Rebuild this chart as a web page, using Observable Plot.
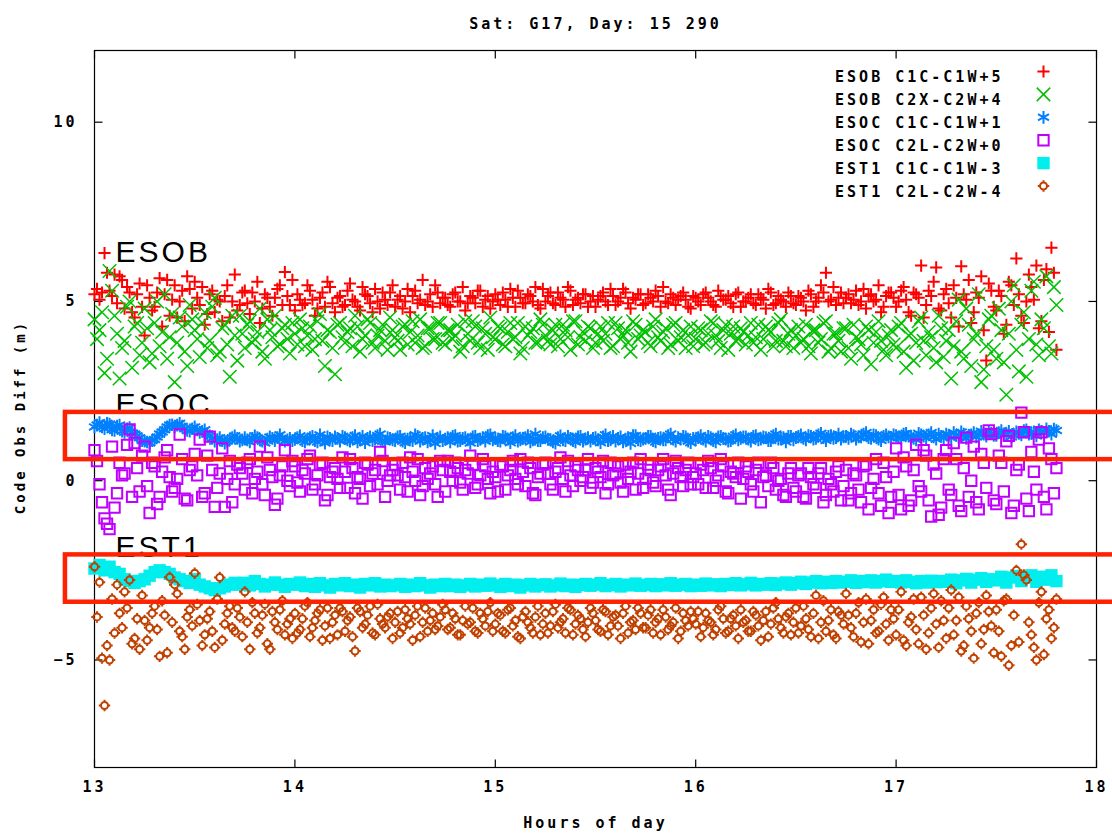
<!DOCTYPE html>
<html><head><meta charset="utf-8">
<script src="https://cdn.jsdelivr.net/npm/d3@7"></script>
<script src="https://cdn.jsdelivr.net/npm/@observablehq/plot@0.6"></script>
<style>
body{margin:0;background:#fff;}
#chart{width:1112px;height:835px;overflow:hidden;}
</style></head><body><div id="chart"></div>
<script>
// ---------- text ----------
const title = "Sat: G17, Day: 15 290";
const xLabel = "Hours of day";
const yLabel = "Code Obs Diff (m)";
const xTicks = [13, 14, 15, 16, 17, 18];
const yTicks = [-5, 0, 5, 10];
const seriesLabels = ["ESOB C1C-C1W+5", "ESOB C2X-C2W+4", "ESOC C1C-C1W+1", "ESOC C2L-C2W+0", "EST1 C1C-C1W-3", "EST1 C2L-C2W-4"];

// ---------- time grid (hours of day) ----------
// "A" arrays start at 13.0000, "B" arrays at 13.0125; both step 0.025 h
const hourStart = 13.0;
const hourStep = 0.025;

// ---------- series values (m) ----------
const esobC1 = [
5.20,5.05,6.35,5.30,5.75,5.70,4.80,5.25,4.55,5.50,
4.05,5.10,4.85,5.65,5.20,4.60,5.45,5.00,4.45,5.35,
5.55,4.90,4.35,5.20,4.70,5.00,5.15,4.55,5.75,4.90,
5.30,4.65,5.00,4.40,5.20,4.85,5.10,5.45,5.82,4.90,
4.75,5.05,4.95,5.30,4.60,5.10,4.85,5.40,4.70,5.15,
4.90,5.50,5.00,4.75,5.20,4.95,5.35,4.80,5.05,5.25,
4.85,5.15,5.00,4.70,5.30,5.05,4.90,5.20,5.45,4.95,
5.10,4.85,5.25,5.00,4.75,5.15,4.95,5.30,5.05,4.80,
5.20,4.90,5.05,5.35,4.85,5.10,4.95,5.15,5.40,4.80,
5.00,5.25,4.90,5.10,4.85,5.30,5.05,4.95,5.20,5.00,
4.85,5.15,5.00,5.35,4.90,5.10,5.25,4.80,5.05,5.20,
4.95,5.10,5.30,4.85,5.00,5.20,4.90,5.15,5.05,4.80,
5.10,4.90,5.25,5.00,4.85,5.15,5.05,4.95,5.20,4.85,
5.00,5.20,4.90,5.10,4.80,5.25,4.95,5.05,4.85,5.15,
4.90,5.10,4.75,5.20,5.00,5.45,5.80,5.05,4.90,5.25,
5.10,4.95,5.30,5.00,4.80,5.20,5.05,4.70,5.15,5.25,
4.85,5.30,5.05,4.60,5.20,6.00,4.90,5.15,5.95,4.75,
5.35,4.55,5.10,5.98,5.05,4.40,5.25,5.70,3.35,5.30,
4.75,5.15,4.35,5.45,6.20,4.60,5.00,5.40,6.00,4.45,
5.90,6.50,3.65];
const esobC1B = [
5.35,5.25,5.80,5.15,4.95,5.60,5.40,4.70,5.20,4.85,
5.45,4.75,5.25,4.30,5.60,5.05,4.55,5.30,5.70,4.80,
5.10,5.40,4.65,5.30,5.05,4.45,5.45,5.00,4.75,5.25,
4.95,5.25,5.55,4.80,5.10,4.60,5.35,4.90,5.15,5.60,
5.20,4.90,5.45,5.05,4.80,5.25,5.55,4.95,5.10,4.85,
5.30,5.05,4.85,5.40,5.15,4.70,5.00,5.25,4.90,5.45,
5.05,4.80,5.35,5.15,4.95,5.60,5.00,4.85,5.25,5.10,
4.90,5.20,5.00,5.40,4.95,5.10,5.30,4.85,5.15,5.00,
5.05,5.25,4.85,5.10,5.30,4.95,5.20,5.00,4.90,5.35,
5.15,4.95,5.25,5.05,5.40,4.90,5.10,5.20,4.85,5.15,
5.05,5.25,4.90,5.15,5.00,5.35,4.95,5.10,5.20,4.90,
5.20,5.00,5.15,5.40,4.95,5.10,5.05,5.25,4.85,5.15,
5.00,5.20,5.10,4.90,5.30,5.05,5.15,4.85,5.25,5.00,
5.10,4.95,5.20,5.05,5.35,4.90,5.15,5.00,5.25,4.95,
5.15,5.00,5.30,4.85,5.10,5.25,5.00,5.40,5.10,4.95,
5.20,5.05,4.90,5.35,5.15,5.00,5.45,4.85,5.25,5.10,
5.00,5.40,4.70,5.25,5.10,4.55,5.30,5.55,4.80,5.20,
4.95,5.45,4.30,5.20,5.60,4.70,5.10,4.20,5.50,4.85,
5.30,4.10,5.55,4.90,5.20,4.40,5.75,5.05,4.25,5.60,
4.15,5.80];

const esobC2 = [
4.50,4.20,3.00,5.85,4.60,2.85,3.90,5.00,4.30,3.50,
4.80,3.30,4.40,3.75,5.20,4.00,2.75,4.55,3.60,4.90,
4.20,3.45,4.70,3.90,5.10,3.60,4.35,2.90,4.05,4.60,
3.70,4.45,3.95,4.80,3.40,4.20,4.60,3.80,4.35,3.55,
4.10,4.50,3.75,4.30,3.95,4.65,3.20,4.15,2.97,4.40,
3.85,4.25,4.60,3.60,4.05,4.40,3.70,4.20,3.90,4.55,
4.00,3.65,4.35,4.15,3.85,4.50,3.75,4.25,3.95,4.40,
3.80,4.20,4.05,3.60,4.45,3.90,4.30,3.70,4.10,4.55,
3.95,4.25,3.75,4.40,4.00,3.55,4.30,4.15,3.85,4.50,
4.05,3.80,4.35,3.95,4.20,3.65,4.45,4.00,3.90,4.25,
3.85,4.30,4.10,3.70,4.40,3.95,4.20,3.60,4.35,4.05,
4.15,3.75,4.50,3.90,4.25,3.80,4.40,4.00,3.70,4.30,
3.95,4.20,3.85,4.45,4.05,3.70,4.35,4.10,3.90,4.25,
3.80,4.40,4.00,3.65,4.30,4.15,3.90,4.50,3.75,4.20,
4.05,3.85,4.35,3.55,4.20,3.95,4.45,3.70,4.10,3.60,
4.25,3.40,4.00,3.80,4.30,3.25,4.15,3.90,3.50,4.20,
3.70,4.40,3.15,4.10,3.85,4.55,3.50,4.00,3.30,4.25,
3.90,2.85,4.45,3.60,4.80,3.20,4.10,2.75,3.75,4.60,
3.40,4.20,2.40,5.00,3.65,4.35,2.90,5.30,3.80,4.50,
5.70,3.55,4.90];
const esobC2B = [
3.95,4.70,3.40,5.30,4.10,3.70,4.85,3.15,4.40,3.85,
4.25,3.55,5.00,4.15,3.40,4.65,3.85,4.30,3.20,4.50,
3.95,4.40,3.70,4.85,3.50,4.25,3.80,4.60,3.35,4.10,
4.35,3.85,4.15,3.60,4.50,4.00,3.75,4.25,3.95,4.40,
3.80,4.25,4.05,3.65,4.45,3.90,4.20,3.70,4.35,4.00,
4.15,3.75,4.30,3.95,4.50,3.85,4.05,4.35,3.65,4.20,
3.90,4.30,3.80,4.45,4.05,3.70,4.25,3.95,4.40,3.85,
4.20,3.95,4.35,3.75,4.10,4.45,3.85,4.25,3.65,4.00,
4.30,3.80,4.15,3.95,4.40,3.70,4.05,4.25,3.85,4.35,
3.90,4.20,3.75,4.35,4.00,4.45,3.80,4.15,4.30,3.70,
4.10,3.90,4.40,3.75,4.25,4.05,3.85,4.45,3.95,4.20,
3.85,4.30,4.00,4.15,3.70,4.35,3.90,4.20,4.05,3.75,
4.25,3.80,4.10,4.40,3.90,4.20,3.65,4.30,3.95,4.15,
4.05,3.85,4.35,3.95,4.20,3.75,4.40,3.90,4.10,3.70,
4.30,3.95,3.75,4.20,3.85,4.40,3.60,4.10,3.90,4.25,
3.70,4.35,3.95,3.50,4.20,3.85,4.45,3.65,4.05,3.80,
4.30,3.60,4.05,3.35,4.45,3.90,4.15,3.70,4.60,3.45,
4.20,3.75,5.05,3.40,4.35,3.95,5.20,3.10,4.50,3.65,
4.80,3.30,4.10,5.45,3.05,4.70,3.95,5.55,3.50,4.25,
3.75,5.40];

const esocC1 = [
1.50,1.62,1.45,1.58,1.40,1.55,1.35,1.48,1.30,1.20,
1.10,1.05,1.15,1.30,1.42,1.55,1.50,1.60,1.45,1.38,
1.50,1.35,1.42,1.25,1.10,1.20,1.05,1.15,1.25,1.10,
1.20,1.08,1.25,1.15,1.05,1.22,1.12,1.28,1.10,1.18,
1.15,1.25,1.08,1.20,1.12,1.28,1.05,1.18,1.22,1.10,
1.20,1.10,1.26,1.14,1.06,1.22,1.16,1.30,1.08,1.18,
1.12,1.24,1.06,1.18,1.28,1.10,1.20,1.14,1.04,1.22,
1.16,1.08,1.26,1.12,1.20,1.05,1.24,1.15,1.10,1.28,
1.18,1.10,1.22,1.06,1.26,1.14,1.20,1.08,1.30,1.12,
1.22,1.15,1.05,1.25,1.12,1.18,1.08,1.24,1.16,1.10,
1.20,1.06,1.28,1.14,1.10,1.22,1.16,1.04,1.26,1.12,
1.18,1.24,1.08,1.20,1.14,1.30,1.10,1.16,1.22,1.06,
1.14,1.26,1.10,1.20,1.08,1.24,1.16,1.12,1.28,1.18,
1.22,1.10,1.26,1.16,1.20,1.12,1.30,1.18,1.08,1.24,
1.20,1.28,1.14,1.24,1.18,1.32,1.12,1.26,1.20,1.16,
1.24,1.30,1.16,1.22,1.34,1.18,1.26,1.12,1.28,1.20,
1.26,1.18,1.32,1.22,1.14,1.28,1.20,1.34,1.16,1.24,
1.30,1.20,1.26,1.36,1.18,1.28,1.22,1.38,1.24,1.32,
1.26,1.40,1.30,1.22,1.36,1.28,1.42,1.32,1.25,1.38,
1.45,1.30,1.40];
const esocC1B = [
1.55,1.50,1.60,1.42,1.52,1.38,1.45,1.32,1.25,1.12,
1.08,1.12,1.22,1.36,1.50,1.56,1.55,1.52,1.40,1.45,
1.42,1.38,1.30,1.18,1.15,1.12,1.10,1.20,1.18,1.14,
1.14,1.18,1.20,1.10,1.16,1.18,1.20,1.16,1.14,1.12,
1.20,1.12,1.16,1.24,1.08,1.14,1.22,1.12,1.18,1.24,
1.14,1.20,1.08,1.24,1.18,1.12,1.26,1.10,1.20,1.14,
1.22,1.10,1.16,1.12,1.24,1.18,1.08,1.26,1.16,1.12,
1.20,1.24,1.10,1.18,1.14,1.22,1.12,1.20,1.26,1.14,
1.12,1.24,1.16,1.20,1.10,1.18,1.26,1.14,1.12,1.20,
1.16,1.08,1.20,1.14,1.24,1.12,1.22,1.10,1.20,1.18,
1.14,1.22,1.12,1.24,1.18,1.08,1.20,1.26,1.14,1.16,
1.24,1.12,1.18,1.14,1.26,1.16,1.20,1.24,1.10,1.18,
1.20,1.16,1.24,1.12,1.22,1.18,1.10,1.24,1.14,1.22,
1.16,1.24,1.14,1.22,1.12,1.26,1.16,1.20,1.24,1.14,
1.24,1.18,1.26,1.16,1.28,1.20,1.24,1.18,1.30,1.22,
1.18,1.26,1.22,1.30,1.20,1.28,1.16,1.24,1.22,1.28,
1.20,1.30,1.24,1.18,1.32,1.24,1.28,1.22,1.30,1.20,
1.26,1.34,1.22,1.30,1.26,1.34,1.28,1.30,1.36,1.26,
1.34,1.30,1.38,1.28,1.32,1.40,1.30,1.36,1.42,1.34,
1.38,1.44];

const esocC2 = [
0.85,-0.10,-1.05,-1.35,-0.75,0.50,0.20,1.43,1.05,-0.30,
0.95,-0.90,0.40,-0.45,0.65,0.10,-0.20,1.29,-0.50,0.30,
0.75,1.15,-0.35,1.23,-0.73,0.20,-0.73,0.55,-0.10,0.35,
-0.25,0.60,0.05,0.95,-0.40,0.30,-0.67,0.15,0.85,-0.15,
0.40,-0.30,0.20,0.70,-0.10,0.45,-0.55,0.10,0.35,-0.20,
0.25,0.60,-0.35,0.05,0.50,-0.15,0.30,0.80,-0.45,0.15,
0.45,-0.25,0.10,0.65,0.00,-0.40,0.35,0.20,-0.10,0.55,
-0.30,0.25,0.50,-0.05,0.30,0.70,-0.20,0.15,0.40,-0.35,
0.10,0.45,-0.25,0.30,0.05,0.60,-0.15,0.35,-0.40,0.20,
0.50,-0.10,0.25,0.65,-0.30,0.15,0.40,0.00,0.30,-0.20,
0.35,0.10,-0.35,0.50,0.20,-0.05,0.45,0.25,-0.25,0.60,
0.05,0.30,-0.15,0.40,0.15,-0.40,0.55,0.10,0.30,-0.10,
0.20,0.45,-0.20,0.35,0.00,0.60,-0.30,0.25,0.10,-0.50,
0.40,-0.10,0.30,-0.60,0.15,0.50,-0.25,0.05,-0.45,0.35,
-0.30,0.20,-0.50,0.10,-0.20,0.35,-0.40,-0.10,0.25,-0.55,
0.30,-0.35,0.15,-0.60,0.45,-0.20,0.60,-0.70,0.10,-0.45,
0.90,-0.80,0.40,-0.55,1.00,-0.30,0.70,-1.00,0.20,-0.75,
0.85,-0.40,0.60,-0.85,1.20,0.00,-0.60,0.75,-0.20,1.30,
-0.65,0.50,1.10,-0.90,0.30,1.90,-0.50,0.80,-0.25,1.35,
-0.80,0.60,0.35];
const esocC2B = [
0.55,-0.60,-1.20,0.95,-0.35,0.15,1.00,-0.45,0.35,0.70,
-0.15,0.50,-0.65,0.25,0.85,-0.30,0.05,0.60,-0.55,0.40,
0.15,-0.45,0.70,0.30,-0.20,0.90,0.05,-0.60,0.45,0.20,
0.50,-0.35,0.25,-0.10,0.65,0.10,-0.50,0.40,0.00,0.55,
-0.05,0.30,0.60,-0.25,0.15,0.50,-0.40,0.25,0.05,0.65,
-0.20,0.35,0.10,-0.50,0.45,0.20,-0.10,0.55,0.00,0.30,
0.15,0.50,-0.30,0.25,0.60,-0.15,0.05,0.40,-0.45,0.30,
0.55,0.00,0.35,-0.25,0.20,0.45,-0.10,0.60,0.05,0.25,
-0.30,0.40,0.15,0.55,-0.10,0.25,0.50,-0.35,0.10,0.45,
0.20,-0.25,0.35,0.05,0.55,-0.15,0.30,0.10,0.60,-0.05,
0.25,0.55,-0.10,0.15,0.40,-0.30,0.05,0.50,0.20,-0.20,
0.45,-0.05,0.30,0.60,-0.25,0.20,0.35,-0.15,0.50,0.10,
-0.10,0.30,0.55,-0.20,0.15,0.40,-0.35,0.20,0.50,0.05,
0.25,-0.30,0.50,0.10,-0.15,0.35,0.00,-0.40,0.20,-0.20,
0.15,-0.45,0.35,-0.10,0.20,-0.60,0.05,-0.30,0.40,-0.15,
-0.55,0.20,-0.25,0.40,-0.80,0.05,-0.35,0.50,-0.90,0.25,
-0.40,0.65,-0.70,0.30,-0.15,0.85,-0.55,0.45,-0.95,0.60,
-0.25,1.05,-0.70,0.35,-0.45,0.95,-0.80,0.50,1.40,-0.55,
0.70,-0.30,1.25,-0.70,0.45,1.35,-0.85,0.25,1.15,-0.45,
0.90,-0.35];

const est1C1 = [
-2.45,-2.35,-2.50,-2.40,-2.55,-2.60,-2.75,-2.80,-2.85,-2.80,
-2.75,-2.65,-2.55,-2.50,-2.55,-2.60,-2.70,-2.75,-2.80,-2.85,
-2.75,-2.90,-2.95,-3.00,-3.05,-3.00,-2.95,-2.90,-2.85,-2.90,
-2.85,-2.92,-2.80,-2.88,-2.95,-2.90,-2.84,-2.90,-2.96,-2.88,
-2.90,-2.84,-2.94,-2.88,-2.96,-2.86,-2.92,-2.98,-2.88,-2.92,
-2.86,-2.94,-2.90,-2.98,-2.88,-2.92,-2.86,-2.95,-2.90,-2.94,
-2.92,-2.88,-2.96,-2.90,-2.94,-2.86,-2.92,-2.98,-2.90,-2.94,
-2.88,-2.94,-2.90,-2.96,-2.92,-2.88,-2.95,-2.90,-2.93,-2.87,
-2.92,-2.96,-2.88,-2.94,-2.90,-2.98,-2.92,-2.88,-2.95,-2.91,
-2.89,-2.95,-2.92,-2.87,-2.94,-2.90,-2.96,-2.91,-2.88,-2.93,
-2.90,-2.86,-2.94,-2.91,-2.88,-2.95,-2.90,-2.92,-2.87,-2.93,
-2.91,-2.88,-2.94,-2.89,-2.92,-2.86,-2.93,-2.90,-2.88,-2.94,
-2.90,-2.93,-2.87,-2.92,-2.89,-2.94,-2.88,-2.91,-2.86,-2.92,
-2.89,-2.85,-2.92,-2.88,-2.90,-2.86,-2.91,-2.87,-2.84,-2.90,
-2.86,-2.82,-2.88,-2.84,-2.80,-2.86,-2.82,-2.85,-2.80,-2.84,
-2.82,-2.78,-2.85,-2.80,-2.83,-2.78,-2.84,-2.80,-2.76,-2.82,
-2.80,-2.84,-2.78,-2.82,-2.86,-2.80,-2.84,-2.79,-2.83,-2.80,
-2.82,-2.76,-2.86,-2.78,-2.74,-2.84,-2.76,-2.72,-2.82,-2.75,
-2.78,-2.68,-2.84,-2.70,-2.66,-2.80,-2.70,-2.64,-2.82,-2.68,
-2.76,-2.64,-2.80];

const est1C2 = [
-2.40,-2.83,-6.27,-5.00,-4.25,-3.70,-3.10,-2.77,-4.40,-4.70,
-3.90,-4.10,-3.50,-4.90,-3.75,-2.69,-2.90,-4.20,-4.70,-3.60,
-2.58,-3.90,-4.30,-3.65,-4.65,-2.70,-4.00,-3.50,-4.20,-3.80,
-3.10,-4.70,-3.70,-4.10,-3.45,-4.70,-3.95,-3.60,-4.30,-3.85,
-3.70,-4.15,-3.50,-4.35,-3.90,-3.60,-4.05,-4.40,-3.75,-3.55,
-4.20,-3.80,-4.75,-3.65,-4.00,-3.50,-4.30,-3.85,-4.10,-3.70,
-3.95,-4.25,-3.60,-4.00,-3.75,-4.35,-3.55,-3.90,-4.15,-3.80,
-3.60,-4.10,-3.85,-4.30,-3.50,-3.95,-4.20,-3.70,-4.05,-3.40,
-4.00,-3.75,-4.25,-3.55,-3.90,-4.40,-3.65,-4.10,-3.80,-4.30,
-3.70,-4.05,-3.45,-3.95,-4.25,-3.60,-4.00,-3.85,-4.35,-3.55,
-3.90,-4.20,-3.65,-4.05,-3.75,-4.40,-3.50,-3.95,-4.15,-3.70,
-4.10,-3.60,-3.95,-4.30,-3.80,-4.05,-3.55,-4.20,-3.90,-3.65,
-4.00,-4.35,-3.70,-3.95,-4.15,-3.50,-4.25,-3.85,-4.05,-3.60,
-3.90,-4.20,-3.75,-4.45,-3.65,-4.00,-3.40,-4.10,-3.80,-4.30,
-3.55,-4.05,-3.85,-4.35,-3.20,-3.95,-4.20,-3.60,-4.40,-3.75,
-3.15,-4.10,-3.70,-4.50,-3.30,-3.90,-4.25,-3.45,-4.00,-3.60,
-4.30,-3.10,-4.60,-3.80,-4.15,-3.25,-4.70,-3.55,-4.00,-3.35,
-4.40,-3.05,-3.90,-4.75,-3.50,-4.20,-3.70,-4.55,-3.20,-4.05,
-3.60,-4.90,-3.30,-4.60,-2.50,-1.77,-2.77,-4.30,-5.00,-3.10,
-3.85,-4.40,-3.30];
const est1C2B = [
-3.80,-4.95,-4.60,-3.30,-2.90,-4.10,-3.55,-4.55,-3.85,-3.20,
-4.45,-3.70,-4.15,-3.35,-4.80,-3.95,-3.15,-4.35,-3.80,-4.05,
-3.45,-4.60,-3.85,-4.20,-3.30,-4.45,-3.70,-4.10,-3.55,-4.35,
-3.95,-3.40,-4.25,-3.75,-4.55,-3.65,-4.15,-3.35,-4.00,-4.40,
-4.25,-3.85,-3.40,-4.10,-3.70,-4.45,-3.55,-3.95,-4.30,-3.65,
-3.90,-4.35,-3.55,-4.10,-3.75,-4.25,-3.45,-4.00,-3.80,-4.40,
-3.65,-4.10,-3.85,-4.45,-3.50,-3.95,-4.20,-3.70,-4.05,-3.45,
-4.15,-3.70,-4.30,-3.90,-4.00,-3.55,-4.25,-3.85,-3.65,-4.20,
-3.70,-4.20,-3.60,-4.05,-4.35,-3.80,-3.95,-4.25,-3.50,-4.00,
-4.25,-3.65,-4.10,-3.85,-3.55,-4.30,-3.75,-4.15,-3.95,-3.70,
-4.15,-3.60,-4.30,-3.80,-4.05,-3.70,-4.25,-3.90,-3.55,-4.10,
-3.75,-4.25,-3.85,-3.60,-4.15,-3.95,-4.40,-3.70,-4.05,-3.85,
-3.65,-4.10,-3.90,-4.30,-3.60,-3.85,-4.20,-3.75,-4.40,-3.95,
-4.20,-3.65,-4.05,-3.90,-4.35,-3.55,-3.85,-4.25,-3.70,-3.95,
-4.25,-3.50,-4.15,-3.70,-4.40,-3.35,-3.90,-4.30,-3.65,-4.00,
-3.75,-4.35,-3.40,-3.95,-4.55,-3.60,-4.20,-3.25,-4.45,-3.85,
-3.60,-4.45,-3.95,-3.30,-4.55,-3.75,-4.25,-3.15,-4.65,-3.90,
-3.55,-4.30,-3.25,-4.60,-3.85,-4.95,-3.40,-4.15,-3.65,-4.80,
-4.20,-3.35,-5.15,-3.75,-4.50,-2.63,-3.95,-4.65,-3.40,-4.85,
-3.60,-4.10];

// ---------- annotations (data coordinates) ----------
const noteLabels = ["ESOB", "ESOC", "EST1"];
const noteHour = [13.105, 13.105, 13.105];
const noteValue = [6.1, 1.85, -2.13];
const boxNames = ["ESOC", "EST1"];
const boxHourFrom = [12.855, 12.855];
const boxHourTo = [18.3, 18.3];
const boxTop = [1.905, -2.07];
const boxBottom = [0.588, -3.39];

// ---------- styling ----------
const spikyCircle = {
  draw(ctx, size) {
    const r = Math.sqrt(size / Math.PI);
    ctx.moveTo(r, 0);
    ctx.arc(0, 0, r, 0, 2 * Math.PI);
    const s = r + 2.2;
    ctx.moveTo(r, 0); ctx.lineTo(s, 0);
    ctx.moveTo(-r, 0); ctx.lineTo(-s, 0);
    ctx.moveTo(0, r); ctx.lineTo(0, s);
    ctx.moveTo(0, -r); ctx.lineTo(0, -s);
  }
};
const tickMark = (dx, dy) => ({draw(ctx) { ctx.moveTo(0, 0); ctx.lineTo(dx, dy); }});
const styles = [
  {color: "#ff0000", symbol: "plus", r: 4.0, fill: "none", sw: 2},
  {color: "#00c000", symbol: "times", r: 6.2, fill: "none", sw: 1.5},
  {color: "#0080ff", symbol: "asterisk", r: 6.0, fill: "none", sw: 2},
  {color: "#c000ff", symbol: "square2", r: 6.6, fill: "none", sw: 2},
  {color: "#00eeee", symbol: "square", r: 7.0, fill: "#00eeee", sw: 0},
  {color: "#c04000", symbol: spikyCircle, r: 3.5, fill: "none", sw: 2}
];
const seriesArrays = [[esobC1, esobC1B], [esobC2, esobC2B], [esocC1, esocC1B], [esocC2, esocC2B], [est1C1], [est1C2, est1C2B]];
const tables = seriesArrays.map(arrs => arrs.flatMap((vals, k) =>
  vals.map((v, i) => ({hour: hourStart + k * hourStep / 2 + i * hourStep, value: v}))
).sort((a, b) => a.hour - b.hour));

const mono = "DejaVu Sans Mono, monospace";

function dotOpts(st) {
  return {symbol: () => st.symbol, r: st.r, stroke: st.fill === "none" ? st.color : "none",
    fill: st.fill, strokeWidth: st.sw};
}
function dotsFor(i) {
  return Plot.dot(tables[i], {x: "hour", y: "value", ...dotOpts(styles[i])});
}
function legendFor(i) {
  return [
    Plot.text([seriesLabels[i]], {frameAnchor: "top-right", dx: -93, dy: 21 + 22.9 * i, text: d => d,
      textAnchor: "end", fill: "black", fontFamily: mono, fontWeight: "bold", fontSize: 15}),
    Plot.dot([seriesLabels[i]], {frameAnchor: "top-right", dx: -53, dy: 21 + 22.9 * i, ...dotOpts(styles[i])})
  ];
}

const plot = Plot.plot({
  width: 1112,
  height: 835,
  marginLeft: 94,
  marginRight: 16,
  marginTop: 50,
  marginBottom: 68,
  style: {background: "white", fontFamily: mono, fontSize: "15px", fontWeight: "bold", color: "black"},
  x: {domain: [13, 18]},
  y: {domain: [-8, 12]},
  symbol: {type: "identity"},
  marks: [
    Plot.frame({stroke: "black", strokeWidth: 1.2}),
    Plot.axisX(xTicks, {anchor: "bottom", tickSize: 0, tickPadding: 14, label: null, tickFormat: d3.format("d"), fontSize: 15, fontWeight: "bold"}),
    Plot.axisY(yTicks, {anchor: "left", tickSize: 0, tickPadding: 17, label: null, tickFormat: d3.format("d"), fontSize: 15, fontWeight: "bold"}),
    Plot.dot(xTicks, {x: d => d, frameAnchor: "bottom", symbol: () => tickMark(0, -8), stroke: "black", fill: "none", strokeWidth: 1.2}),
    Plot.dot(xTicks, {x: d => d, frameAnchor: "top", symbol: () => tickMark(0, 8), stroke: "black", fill: "none", strokeWidth: 1.2}),
    Plot.dot(yTicks, {y: d => d, frameAnchor: "left", symbol: () => tickMark(8, 0), stroke: "black", fill: "none", strokeWidth: 1.2}),
    Plot.dot(yTicks, {y: d => d, frameAnchor: "right", symbol: () => tickMark(-8, 0), stroke: "black", fill: "none", strokeWidth: 1.2}),
    Plot.text([title], {frameAnchor: "top", dy: -32, text: d => d, fontFamily: mono, fontWeight: "bold", fontSize: 15}),
    Plot.text([xLabel], {frameAnchor: "bottom", dy: 60, text: d => d, fontFamily: mono, fontWeight: "bold", fontSize: 15}),
    Plot.text([yLabel], {frameAnchor: "left", dx: -74, dy: 8, rotate: -90, textAnchor: "middle", text: d => d, fontFamily: mono, fontWeight: "bold", fontSize: 14, ariaLabel: "ylabel"}),
    ...[0, 1, 2, 3, 4, 5].map(dotsFor),
    ...[0, 1, 2, 3, 4, 5].flatMap(legendFor),
    Plot.text(noteLabels, {x: (d, i) => noteHour[i], y: (d, i) => noteValue[i], text: d => d,
      textAnchor: "start", lineAnchor: "bottom", fontSize: 30, fontWeight: "normal",
      fontFamily: "Liberation Sans, Arial, sans-serif", fill: "black", ariaLabel: "note"}),
    Plot.rect(boxNames, {x1: (d, i) => boxHourFrom[i], x2: (d, i) => boxHourTo[i],
      y1: (d, i) => boxBottom[i], y2: (d, i) => boxTop[i], fill: "none", stroke: "#ff2200",
      strokeWidth: 4.5, ariaLabel: "box"})
  ]
});

d3.select(plot).selectAll("text").style("letter-spacing", "3px");
d3.select(plot).selectAll('g[aria-label="ylabel"] text').style("letter-spacing", "2px");
d3.select(plot).selectAll('g[aria-label="note"] text').style("letter-spacing", "0px");
d3.select(plot).selectAll('g[aria-label="box"]').style("filter", "drop-shadow(0px 3px 2px rgba(0,0,0,0.35))");
document.getElementById("chart").appendChild(plot);
</script>
</body></html>
